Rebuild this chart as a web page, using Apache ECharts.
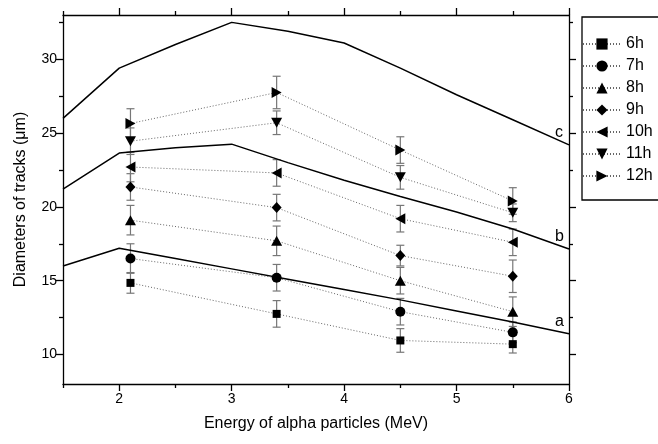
<!DOCTYPE html>
<html><head><meta charset="utf-8">
<script src="https://cdn.jsdelivr.net/npm/echarts@6/dist/echarts.min.js"></script>
<style>html,body{margin:0;padding:0;background:#fff;}#c{width:658px;height:444px;}</style>
</head><body><div id="c"></div>
<script>
// ---- data ----
const energies = [2.1, 3.4, 4.5, 5.5];
const seriesNames = ['6h','7h','8h','9h','10h','11h','12h'];
const d6h  = [14.85, 12.75, 10.95, 10.7];
const d7h  = [16.5, 15.2, 12.9, 11.5];
const d8h  = [19.1, 17.7, 15.0, 12.9];
const d9h  = [21.35, 19.95, 16.7, 15.3];
const d10h = [22.7, 22.3, 19.2, 17.6];
const d11h = [24.45, 25.7, 22.0, 19.6];
const d12h = [25.65, 27.75, 23.85, 20.4];
const e6h  = [0.7, 0.9, 0.8, 0.6];
const e7h  = [1.0, 0.9, 0.9, 0.7];
const e8h  = [1.0, 1.0, 0.9, 1.0];
const e9h  = [0.9, 0.9, 0.7, 1.1];
const e10h = [1.0, 0.9, 0.9, 0.9];
const e11h = [0.9, 0.8, 0.8, 0.6];
const e12h = [1.0, 1.1, 0.9, 0.9];
const curveX = [1.5, 2, 2.5, 3, 3.5, 4, 4.5, 5, 5.5, 6];
const curveA = [16.0, 17.2, 16.5, 15.8, 15.1, 14.4, 13.7, 12.95, 12.2, 11.4];
const curveB = [21.2, 23.65, 24.0, 24.25, 23.0, 21.8, 20.7, 19.65, 18.5, 17.15];
const curveC = [26.0, 29.4, 31.0, 32.5, 31.9, 31.1, 29.4, 27.6, 25.9, 24.2];
const curveNames = ['a','b','c'];
const xTicksMajor = [2, 3, 4, 5, 6];
const xTicksMinor = [1.5, 2.5, 3.5, 4.5, 5.5];
const yTicksMajor = [10, 15, 20, 25, 30];
const yTicksMinor = [12.5, 17.5, 22.5, 27.5, 32.5];

// ---- chart ----
const FONT = '"Liberation Sans", Arial, sans-serif';
const values = [d6h, d7h, d8h, d9h, d10h, d11h, d12h];
const errs = [e6h, e7h, e8h, e9h, e10h, e11h, e12h];
const symbols = [
  'rect', 'circle', 'path://M5,0L10,10L0,10Z', 'diamond',
  'path://M10,0L0,5L10,10Z', 'path://M0,0L10,0L5,10Z', 'path://M0,0L10,5L0,10Z'
];
const symSizes = [8, 10, [11, 10], [10, 11], [10, 11], [11, 10], [10, 11]];

const errData = [];
values.forEach((vals, i) => vals.forEach((v, j) => errData.push([energies[j], v, errs[i][j]])));

const axLine = {show: true, lineStyle: {color: '#000', width: 1.3}};
const xBase = {type: 'value', min: 1.5, max: 6, splitLine: {show: false}};
const yBase = {type: 'value', min: 8, max: 33, splitLine: {show: false}};
const tickStyle = {color: '#000', width: 1.3};
const xAxes = [
  Object.assign({}, xBase, {position: 'bottom', axisLine: axLine,
    axisTick: {show: true, length: 7, customValues: xTicksMajor, lineStyle: tickStyle},
    axisLabel: {show: true, customValues: xTicksMajor, color: '#000', fontSize: 14, fontFamily: FONT, margin: 8},
    name: 'Energy of alpha particles (MeV)', nameLocation: 'middle', nameGap: 32,
    nameTextStyle: {color: '#000', fontSize: 16, fontFamily: FONT}}),
  Object.assign({}, xBase, {position: 'bottom', axisLine: {show: false},
    axisTick: {show: true, length: 4, customValues: xTicksMinor, lineStyle: tickStyle},
    axisLabel: {show: false}}),
  Object.assign({}, xBase, {position: 'top', axisLine: axLine,
    axisTick: {show: true, length: 7, customValues: xTicksMajor, lineStyle: tickStyle},
    axisLabel: {show: false}}),
  Object.assign({}, xBase, {position: 'top', axisLine: {show: false},
    axisTick: {show: true, length: 4, customValues: xTicksMinor, lineStyle: tickStyle},
    axisLabel: {show: false}})
];
const yAxes = [
  Object.assign({}, yBase, {position: 'left', axisLine: axLine,
    axisTick: {show: true, length: 7, customValues: yTicksMajor, lineStyle: tickStyle},
    axisLabel: {show: true, customValues: yTicksMajor, color: '#000', fontSize: 14, fontFamily: FONT, margin: 6},
    name: 'Diameters of tracks (\u03bcm)', nameLocation: 'middle', nameGap: 34,
    nameTextStyle: {color: '#000', fontSize: 16, fontFamily: FONT}}),
  Object.assign({}, yBase, {position: 'left', axisLine: {show: false},
    axisTick: {show: true, length: 4, customValues: yTicksMinor, lineStyle: tickStyle},
    axisLabel: {show: false}}),
  Object.assign({}, yBase, {position: 'right', axisLine: axLine,
    axisTick: {show: true, length: 7, customValues: yTicksMajor, lineStyle: tickStyle},
    axisLabel: {show: false}}),
  Object.assign({}, yBase, {position: 'right', axisLine: {show: false},
    axisTick: {show: true, length: 4, customValues: yTicksMinor, lineStyle: tickStyle},
    axisLabel: {show: false}})
];

const series = [];
// error bars
series.push({
  type: 'custom', name: 'err', z: 1, silent: true,
  data: errData,
  renderItem: function (params, api) {
    const x = api.value(0), y = api.value(1), e = api.value(2);
    const top = api.coord([x, y + e]);
    const bot = api.coord([x, y - e]);
    const cw = 4;
    const st = {stroke: '#777', lineWidth: 1.2, fill: null};
    return {type: 'group', children: [
      {type: 'line', shape: {x1: top[0], y1: top[1], x2: bot[0], y2: bot[1]}, style: st},
      {type: 'line', shape: {x1: top[0] - cw, y1: top[1], x2: top[0] + cw, y2: top[1]}, style: st},
      {type: 'line', shape: {x1: bot[0] - cw, y1: bot[1], x2: bot[0] + cw, y2: bot[1]}, style: st}
    ]};
  }
});
// model curves
[curveA, curveB, curveC].forEach((arr, k) => {
  series.push({type: 'line', name: curveNames[k],
    data: curveX.map((x, i) => [x, arr[i]]),
    symbol: 'none', showSymbol: false,
    lineStyle: {color: '#000', width: 1.5}, z: 3, silent: true,
    endLabel: {show: true, formatter: curveNames[k], color: '#000', fontSize: 16, fontFamily: FONT,
      offset: [-14, -12], distance: 0}});
});
// measured series
values.forEach((vals, i) => {
  series.push({
    type: 'line', name: seriesNames[i],
    data: vals.map((v, j) => [energies[j], v]),
    symbol: symbols[i], symbolSize: symSizes[i], showSymbol: true,
    itemStyle: {color: '#000', borderWidth: 0},
    lineStyle: {color: '#666', width: 1, type: [1, 2]},
    z: 4, silent: true
  });
});

const chart = echarts.init(document.getElementById('c'), null, {renderer: 'canvas'});
chart.setOption({
  animation: false,
  backgroundColor: '#fff',
  grid: {left: 63, right: 89, top: 15, bottom: 60, containLabel: false},
  xAxis: xAxes,
  yAxis: yAxes,
  legend: {
    data: seriesNames, orient: 'vertical', left: 582, top: 17,
    padding: [19, 40, 16, 0], itemGap: 6, itemWidth: 38, itemHeight: 14,
    borderColor: '#000', borderWidth: 1.3,
    textStyle: {color: '#000', fontSize: 16, fontFamily: FONT}
  },
  series: series
});
</script></body></html>
